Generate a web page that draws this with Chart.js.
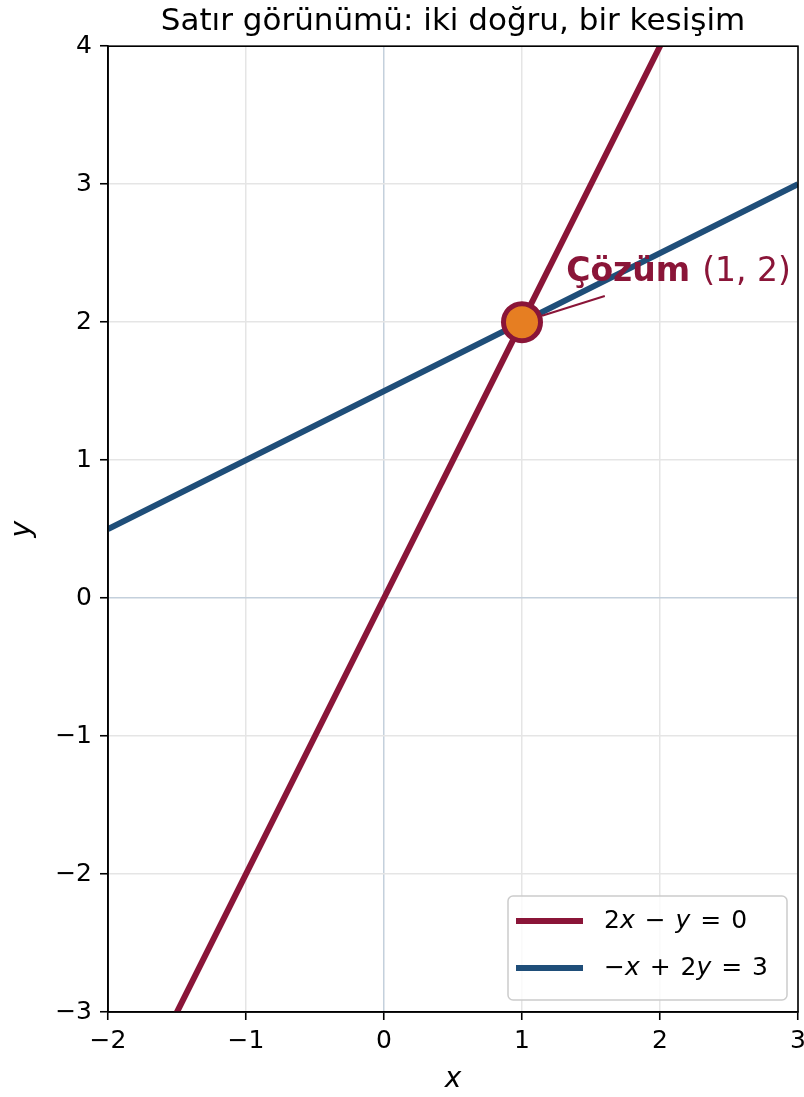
<!DOCTYPE html>
<html>
<head>
<meta charset="utf-8">
<script src="https://cdn.jsdelivr.net/npm/chart.js@4/dist/chart.umd.min.js"></script>
<style>
  html, body { margin: 0; padding: 0; background: #fff; }
</style>
</head>
<body>
<canvas id="chart" width="804" height="1097"></canvas>
<script>
// dados do gráfico
const xLimits = [-2, 3];
const yLimits = [-3, 4];
const lineLabels = ['2x − y = 0', '−x + 2y = 3'];
const redLineX = [-2, 3];
const redLineY = [-4, 6];      // y = 2x
const blueLineX = [-2, 3];
const blueLineY = [0.5, 3];    // y = (3 + x) / 2
const solution = [1, 2];
const annotationText = ['Çözüm', '(1, 2)'];
const annotationAt = [1.32, 2.30];
const arrowFrom = [1.60, 2.19];

const RED = '#8a1538';
const BLUE = '#1f4e79';
const ORANGE = '#e67e22';
const FONT = "'DejaVu Sans', sans-serif";

function toPoints(xs, ys) {
    return xs.map((x, i) => ({ x: x, y: ys[i] }));
}

function minusSign(v) {
    return String(v).replace('-', '\u2212');
}

// texto com variáveis em itálico (x, y)
function drawMathText(ctx, text, x, y, size) {
    let cx = x;
    for (const ch of text) {
        ctx.font = (/[a-z]/.test(ch) ? 'italic ' : '') + size + 'px ' + FONT;
        ctx.fillText(ch, cx, y);
        cx += ctx.measureText(ch).width + (ch === ' ' ? 2 : 0);
    }
}

// moldura, anotação e legenda
const extras = {
    id: 'extras',
    afterDatasetsDraw(chart) {
        const ctx = chart.ctx;
        const xs = chart.scales.x, ys = chart.scales.y;

        // anotação
        const px = xs.getPixelForValue(solution[0]);
        const py = ys.getPixelForValue(solution[1]);
        const fx = xs.getPixelForValue(arrowFrom[0]);
        const fy = ys.getPixelForValue(arrowFrom[1]);
        const ang = Math.atan2(py - fy, px - fx);
        ctx.save();
        ctx.strokeStyle = RED;
        ctx.lineWidth = 2;
        ctx.beginPath();
        ctx.moveTo(fx, fy);
        ctx.lineTo(px - Math.cos(ang) * 21, py - Math.sin(ang) * 21);
        ctx.stroke();

        ctx.fillStyle = RED;
        ctx.textBaseline = 'alphabetic';
        ctx.textAlign = 'left';
        const tx = xs.getPixelForValue(annotationAt[0]);
        const ty = ys.getPixelForValue(annotationAt[1]);
        ctx.font = 'bold 33px ' + FONT;
        ctx.fillText(annotationText[0], tx, ty);
        const w = ctx.measureText(annotationText[0]).width;
        ctx.font = '33px ' + FONT;
        ctx.fillText(annotationText[1], tx + w + 12, ty);
        ctx.restore();
    },
    afterDraw(chart) {
        const ctx = chart.ctx;
        const a = chart.chartArea;
        ctx.save();
        ctx.strokeStyle = '#000';
        ctx.lineWidth = 1.6;
        ctx.strokeRect(a.left, a.top, a.right - a.left, a.bottom - a.top);

        // legenda
        const bx = 508, by = 896, bw = 279, bh = 104;
        ctx.fillStyle = 'rgba(255,255,255,0.8)';
        ctx.strokeStyle = '#cccccc';
        ctx.lineWidth = 1.5;
        ctx.beginPath();
        ctx.roundRect(bx, by, bw, bh, 5);
        ctx.fill();
        ctx.stroke();

        const rows = [921, 968];
        chart.data.datasets.slice(0, 2).forEach((ds, i) => {
            ctx.strokeStyle = ds.borderColor;
            ctx.lineWidth = 6;
            ctx.beginPath();
            ctx.moveTo(516, rows[i]);
            ctx.lineTo(583, rows[i]);
            ctx.stroke();
            ctx.fillStyle = '#000';
            ctx.textBaseline = 'middle';
            drawMathText(ctx, ds.label, 604, rows[i], 25);
        });
        ctx.restore();
    }
};

const gridColor = (c) => (c.tick && c.tick.value === 0) ? '#c4d0dc' : '#e5e5e5';
const noSidePad = (s) => { s.paddingLeft = 0; s.paddingRight = 0; };

new Chart(document.getElementById('chart'), {
    type: 'scatter',
    data: {
        datasets: [
            {
                label: lineLabels[0],
                data: toPoints(redLineX, redLineY),
                showLine: true,
                borderColor: RED,
                borderWidth: 6,
                pointRadius: 0,
                order: 2
            },
            {
                label: lineLabels[1],
                data: toPoints(blueLineX, blueLineY),
                showLine: true,
                borderColor: BLUE,
                borderWidth: 6,
                pointRadius: 0,
                order: 1
            },
            {
                label: 'Çözüm',
                data: [{ x: solution[0], y: solution[1] }],
                pointRadius: 18.5,
                pointBackgroundColor: ORANGE,
                pointBorderColor: RED,
                pointBorderWidth: 5,
                order: 0
            }
        ]
    },
    options: {
        responsive: false,
        devicePixelRatio: 1,
        animation: false,
        layout: { autoPadding: false, padding: { left: 0, right: 6, top: 0, bottom: 0 } },
        plugins: {
            legend: { display: false },
            tooltip: { enabled: false },
            title: {
                display: true,
                text: 'Satır görünümü: iki doğru, bir kesişim',
                fullSize: false,
                color: '#000',
                font: { family: FONT, size: 31, weight: 'normal' },
                padding: { top: 3, bottom: 6 }
            }
        },
        scales: {
            x: {
                type: 'linear',
                min: xLimits[0],
                max: xLimits[1],
                ticks: {
                    stepSize: 1,
                    color: '#000',
                    padding: 6,
                    maxRotation: 0,
                    font: { family: FONT, size: 25 },
                    callback: (v) => minusSign(v)
                },
                grid: {
                    color: gridColor,
                    lineWidth: 1.5,
                    tickLength: 8,
                    tickColor: '#000',
                    tickWidth: 1.6
                },
                border: { color: '#000', width: 1.6 },
                title: {
                    display: true,
                    text: 'x',
                    color: '#000',
                    font: { family: FONT, size: 28, style: 'italic' },
                    padding: { top: 0, bottom: 0 }
                },
                afterFit: (s) => { s.height = 85; noSidePad(s); }
            },
            y: {
                type: 'linear',
                min: yLimits[0],
                max: yLimits[1],
                ticks: {
                    stepSize: 1,
                    color: '#000',
                    padding: 8,
                    font: { family: FONT, size: 25 },
                    callback: (v) => minusSign(v)
                },
                grid: {
                    color: gridColor,
                    lineWidth: 1.5,
                    tickLength: 8,
                    tickColor: '#000',
                    tickWidth: 1.6
                },
                border: { color: '#000', width: 1.6 },
                title: {
                    display: true,
                    text: 'y',
                    color: '#000',
                    font: { family: FONT, size: 28, style: 'italic' },
                    padding: { top: 6, bottom: 6 }
                },
                afterFit: (s) => { s.width = 108; s.paddingTop = 0; s.paddingBottom = 0; }
            }
        }
    },
    plugins: [extras]
});
</script>
</body>
</html>
